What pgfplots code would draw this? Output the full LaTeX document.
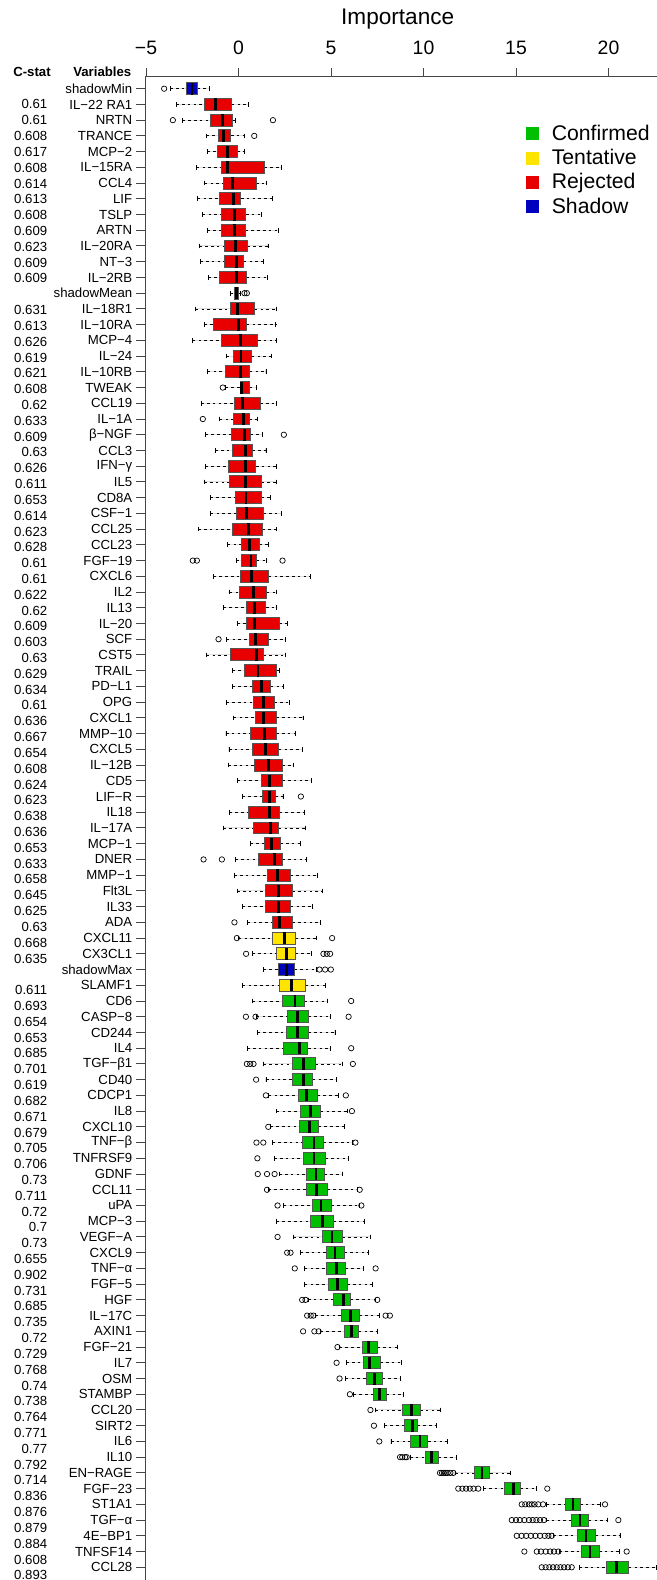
\documentclass[border=0pt]{standalone}
\usepackage{fontspec}
\setmainfont{Liberation Sans}
\usepackage{pgfplots}
\pgfplotsset{compat=1.18}
\usepgfplotslibrary{statistics}
\definecolor{cgreen}{RGB}{0,190,0}
\definecolor{cyellow}{RGB}{255,228,0}
\definecolor{cred}{RGB}{232,0,0}
\definecolor{cblue}{RGB}{0,0,190}
\definecolor{boxgray}{RGB}{85,85,85}
\definecolor{axgray}{RGB}{70,70,70}
\pgfplotsset{
  boxplot/draw direction=x,
  boxplot/box extend=0.76,
  boxplot/whisker extend=0.3,
  boxplot/every box/.style={draw=boxgray, line width=0.5pt},
  boxplot/every whisker/.style={black, line width=0.4pt},
  boxplot/every median/.style={black, line width=1.4pt},
  boxplot/draw/lower whisker/.code={%
    \draw[/pgfplots/boxplot/every whisker/.try, dash pattern=on 1.3pt off 1.6pt]
      (boxplot cs:\pgfplotsboxplotvalue{lower whisker}) -- (boxplot cs:\pgfplotsboxplotvalue{lower quartile});
    \draw[/pgfplots/boxplot/every whisker/.try, solid]
      (boxplot whisker cs:\pgfplotsboxplotvalue{lower whisker},0) -- (boxplot whisker cs:\pgfplotsboxplotvalue{lower whisker},1);
  },
  boxplot/draw/upper whisker/.code={%
    \draw[/pgfplots/boxplot/every whisker/.try, dash pattern=on 1.3pt off 1.6pt]
      (boxplot cs:\pgfplotsboxplotvalue{upper quartile}) -- (boxplot cs:\pgfplotsboxplotvalue{upper whisker});
    \draw[/pgfplots/boxplot/every whisker/.try, solid]
      (boxplot whisker cs:\pgfplotsboxplotvalue{upper whisker},0) -- (boxplot whisker cs:\pgfplotsboxplotvalue{upper whisker},1);
  },
  legend image code/.code={\fill[#1, draw=none] (0pt,-3.25pt) rectangle (6.5pt,3.25pt); \path[draw=none, fill=none] (0pt,0pt) -- (11pt,0pt);},
}
\newcommand{\bx}[7]{\addplot[boxplot prepared={draw position=#1, lower whisker=#2, lower quartile=#3, median=#4, upper quartile=#5, upper whisker=#6}, fill=#7, draw=boxgray] coordinates {};}
\begin{document}
\begin{tikzpicture}
\begin{axis}[name=main, at={(0,0)}, anchor=south west,
  scale only axis, width=255.95pt, height=751.65pt,
  xmin=-5.05, xmax=22.62, ymin=0.237, ymax=95.81, y dir=reverse,
  axis x line*=top, axis y line*=left,
  axis line style={axgray, line width=0.5pt},
  tick style={axgray, line width=0.5pt},
  tick align=outside, major tick length=4.3pt,
  xtick={-5,0,5,10,15,20}, xticklabels={−5,0,5,10,15,20},
  xticklabel style={font=\fontsize{9.7}{11}\selectfont, yshift=3pt},
  ytick={1,...,95},
  yticklabels={shadowMin, IL−22 RA1, NRTN, TRANCE, MCP−2, IL−15RA, CCL4, LIF, TSLP, ARTN, IL−20RA, NT−3, IL−2RB, shadowMean, IL−18R1, IL−10RA, MCP−4, IL−24, IL−10RB, TWEAK, CCL19, IL−1A, β−NGF, CCL3, IFN−γ, IL5, CD8A, CSF−1, CCL25, CCL23, FGF−19, CXCL6, IL2, IL13, IL−20, SCF, CST5, TRAIL, PD−L1, OPG, CXCL1, MMP−10, CXCL5, IL−12B, CD5, LIF−R, IL18, IL−17A, MCP−1, DNER, MMP−1, Flt3L, IL33, ADA, CXCL11, CX3CL1, shadowMax, SLAMF1, CD6, CASP−8, CD244, IL4, TGF−β1, CD40, CDCP1, IL8, CXCL10, TNF−β, TNFRSF9, GDNF, CCL11, uPA, MCP−3, VEGF−A, CXCL9, TNF−α, FGF−5, HGF, IL−17C, AXIN1, FGF−21, IL7, OSM, STAMBP, CCL20, SIRT2, IL6, IL10, EN−RAGE, FGF−23, ST1A1, TGF−α, 4E−BP1, TNFSF14, CCL28},
  yticklabel style={font=\fontsize{6.6}{7}\selectfont, xshift=1.4pt},
  clip=false,
  legend entries={Confirmed,Tentative,Rejected,Shadow},
  legend cell align=left,
  legend style={at={(axis description cs:0.743,0.971)}, anchor=north west, draw=none, fill=none, inner sep=0pt, font=\fontsize{10.6}{12}\selectfont, row sep=-1pt},
]
\addlegendimage{fill=cgreen}
\addlegendimage{fill=cyellow}
\addlegendimage{fill=cred}
\addlegendimage{fill=cblue}
\bx{1}{-3.69}{-2.83}{-2.52}{-2.22}{-1.57}{cblue}
\bx{2}{-3.37}{-1.86}{-1.26}{-0.36}{0.56}{cred}
\bx{3}{-3.03}{-1.50}{-0.88}{-0.34}{-0.16}{cred}
\bx{4}{-1.75}{-1.08}{-0.81}{-0.41}{0.32}{cred}
\bx{5}{-1.69}{-1.12}{-0.59}{-0.07}{0.31}{cred}
\bx{6}{-2.25}{-0.94}{-0.58}{1.41}{2.31}{cred}
\bx{7}{-1.82}{-0.81}{-0.31}{0.95}{1.53}{cred}
\bx{8}{-2.20}{-1.01}{-0.27}{0.13}{1.84}{cred}
\bx{9}{-1.93}{-0.94}{-0.22}{0.40}{1.26}{cred}
\bx{10}{-1.69}{-0.90}{-0.22}{0.38}{2.18}{cred}
\bx{11}{-2.11}{-0.76}{-0.16}{0.49}{1.59}{cred}
\bx{12}{-2.07}{-0.76}{-0.09}{0.29}{1.35}{cred}
\bx{13}{-1.64}{-1.01}{-0.11}{0.41}{1.57}{cred}
\bx{14}{-0.45}{-0.22}{-0.13}{-0.02}{0.09}{cblue}
\bx{15}{-2.31}{-0.45}{-0.07}{0.88}{2.07}{cred}
\bx{16}{-1.86}{-1.37}{0.0}{0.45}{2.02}{cred}
\bx{17}{-2.47}{-0.92}{0.09}{1.05}{2.07}{cred}
\bx{18}{-0.63}{-0.27}{0.13}{0.72}{1.80}{cred}
\bx{19}{-1.66}{-0.72}{0.11}{0.61}{1.48}{cred}
\bx{20}{-0.70}{0.13}{0.18}{0.61}{0.99}{cred}
\bx{21}{-2.02}{-0.20}{0.22}{1.17}{2.04}{cred}
\bx{22}{-1.01}{-0.27}{0.27}{0.59}{1.03}{cred}
\bx{23}{-1.78}{-0.38}{0.32}{0.65}{1.30}{cred}
\bx{24}{-1.26}{-0.31}{0.38}{0.76}{1.48}{cred}
\bx{25}{-1.78}{-0.52}{0.36}{0.94}{2.04}{cred}
\bx{26}{-1.86}{-0.49}{0.38}{1.24}{2.07}{cred}
\bx{27}{-1.51}{-0.18}{0.40}{1.23}{1.71}{cred}
\bx{28}{-1.50}{-0.11}{0.41}{1.33}{2.34}{cred}
\bx{29}{-2.18}{-0.32}{0.54}{1.28}{2.04}{cred}
\bx{30}{-0.58}{0.18}{0.58}{1.14}{1.64}{cred}
\bx{31}{-0.09}{0.18}{0.67}{0.99}{1.53}{cred}
\bx{32}{-1.35}{0.11}{0.72}{1.64}{3.87}{cred}
\bx{33}{-0.47}{0.07}{0.81}{1.53}{2.07}{cred}
\bx{34}{-0.81}{0.45}{0.85}{1.48}{2.04}{cred}
\bx{35}{-0.07}{0.41}{0.86}{2.22}{2.65}{cred}
\bx{36}{-0.63}{0.59}{0.90}{1.62}{2.56}{cred}
\bx{37}{-1.71}{-0.45}{0.97}{1.35}{2.52}{cred}
\bx{38}{-0.32}{0.34}{1.05}{2.04}{2.22}{cred}
\bx{39}{-0.32}{0.76}{1.23}{1.75}{2.43}{cred}
\bx{40}{-0.65}{0.81}{1.33}{1.93}{2.77}{cred}
\bx{41}{-0.25}{0.92}{1.33}{2.04}{3.48}{cred}
\bx{42}{-0.68}{0.63}{1.41}{2.04}{3.06}{cred}
\bx{43}{-0.52}{0.74}{1.46}{2.18}{3.46}{cred}
\bx{44}{-0.56}{0.86}{1.62}{2.36}{2.97}{cred}
\bx{45}{-0.04}{1.24}{1.66}{2.36}{3.93}{cred}
\bx{46}{0.22}{1.32}{1.68}{2.00}{2.40}{cred}
\bx{47}{-0.49}{0.54}{1.68}{2.22}{3.55}{cred}
\bx{48}{-0.83}{0.81}{1.73}{2.18}{3.60}{cred}
\bx{49}{0.63}{1.41}{1.80}{2.25}{3.35}{cred}
\bx{50}{-0.18}{1.08}{1.93}{2.36}{3.66}{cred}
\bx{51}{-0.23}{1.57}{2.11}{2.79}{4.27}{cred}
\bx{52}{-0.07}{1.48}{2.18}{2.90}{4.54}{cred}
\bx{53}{0.22}{1.48}{2.18}{2.83}{3.98}{cred}
\bx{54}{0.50}{1.82}{2.22}{2.90}{4.45}{cred}
\bx{55}{0.02}{1.86}{2.47}{3.08}{4.23}{cyellow}
\bx{56}{0.74}{2.07}{2.61}{3.08}{3.93}{cyellow}
\bx{57}{1.35}{2.16}{2.61}{3.01}{4.23}{cblue}
\bx{58}{0.23}{2.22}{2.85}{3.60}{4.70}{cyellow}
\bx{59}{0.77}{2.40}{3.05}{3.55}{4.81}{cgreen}
\bx{60}{0.99}{2.65}{3.19}{3.77}{4.95}{cgreen}
\bx{61}{1.03}{2.58}{3.17}{3.77}{5.21}{cgreen}
\bx{62}{0.47}{2.43}{3.30}{3.75}{4.99}{cgreen}
\bx{63}{1.35}{2.94}{3.51}{4.16}{5.62}{cgreen}
\bx{64}{1.48}{2.90}{3.53}{4.02}{5.28}{cgreen}
\bx{65}{1.64}{3.24}{3.69}{4.27}{5.42}{cgreen}
\bx{66}{2.07}{3.37}{3.87}{4.45}{5.89}{cgreen}
\bx{67}{1.72}{3.28}{3.85}{4.33}{5.73}{cgreen}
\bx{68}{1.83}{3.44}{4.08}{4.60}{6.15}{cgreen}
\bx{69}{1.93}{3.49}{4.08}{4.69}{5.96}{cgreen}
\bx{70}{2.20}{3.65}{4.19}{4.64}{5.64}{cgreen}
\bx{71}{1.61}{3.65}{4.21}{4.82}{6.41}{cgreen}
\bx{72}{2.45}{3.99}{4.46}{5.03}{6.55}{cgreen}
\bx{73}{2.06}{3.90}{4.53}{5.14}{6.82}{cgreen}
\bx{74}{2.97}{4.53}{5.05}{5.62}{7.13}{cgreen}
\bx{75}{3.33}{4.73}{5.21}{5.71}{7.04}{cgreen}
\bx{76}{3.58}{4.76}{5.28}{5.78}{6.75}{cgreen}
\bx{77}{3.58}{4.85}{5.37}{5.87}{7.23}{cgreen}
\bx{78}{3.76}{5.16}{5.69}{6.05}{7.38}{cgreen}
\bx{79}{4.14}{5.59}{6.05}{6.52}{7.61}{cgreen}
\bx{80}{4.44}{5.71}{6.09}{6.50}{7.50}{cgreen}
\bx{81}{5.46}{6.70}{7.04}{7.50}{8.58}{cgreen}
\bx{82}{5.82}{6.73}{7.09}{7.66}{8.79}{cgreen}
\bx{83}{5.80}{6.93}{7.34}{7.79}{8.74}{cgreen}
\bx{84}{6.21}{7.27}{7.63}{8.02}{8.90}{cgreen}
\bx{85}{7.38}{8.88}{9.36}{9.81}{10.93}{cgreen}
\bx{86}{7.90}{8.95}{9.41}{9.67}{10.71}{cgreen}
\bx{87}{8.24}{9.32}{9.81}{10.24}{11.31}{cgreen}
\bx{88}{9.27}{10.08}{10.44}{10.80}{11.76}{cgreen}
\bx{89}{11.70}{12.77}{13.16}{13.59}{14.68}{cgreen}
\bx{90}{13.23}{14.35}{14.86}{15.22}{16.12}{cgreen}
\bx{91}{16.66}{17.70}{18.08}{18.46}{19.54}{cgreen}
\bx{92}{16.62}{17.99}{18.46}{18.93}{19.94}{cgreen}
\bx{93}{17.02}{18.31}{18.78}{19.31}{20.62}{cgreen}
\bx{94}{17.34}{18.55}{19.00}{19.49}{20.57}{cgreen}
\bx{95}{18.41}{19.90}{20.42}{21.10}{22.57}{cgreen}
\addplot[only marks, mark=o, mark size=1.35pt, black, mark options={line width=0.35pt}] coordinates {
(-4.02,1) (-3.55,3) (1.86,3) (0.85,4) (0.32,14) (0.45,14) (-0.85,20) (-1.93,22) (2.45,23)
(-2.47,31) (-2.25,31) (2.38,31) (-1.08,36) (3.37,46) (-1.89,50) (-0.90,50) (-0.22,54)
(-0.09,55) (5.06,55) (0.41,56) (4.59,56) (4.77,56) (4.95,56) (4.38,57) (4.68,57) (4.99,57)
(6.09,59) (0.40,60) (0.92,60) (5.95,60) (6.09,62) (0.45,63) (0.63,63) (0.81,63) (6.18,63)
(0.95,64) (1.48,65) (5.80,65) (6.13,66) (1.61,67) (0.97,68) (1.34,68) (6.32,68) (1.02,69)
(1.04,70) (1.54,70) (1.95,70) (1.54,71) (6.55,71) (2.11,72) (6.64,72) (2.11,74) (2.63,75) (2.81,75)
(3.04,76) (7.41,76) (3.44,78) (3.62,78) (7.50,78) (3.71,79) (3.90,79) (4.05,79) (7.95,79) (8.18,79)
(3.49,80) (4.10,80) (4.33,80) (5.35,81) (5.30,82) (5.46,83) (6.02,84) (7.13,85) (7.32,86) (7.61,87)
(8.73,88) (8.85,88) (9.00,88) (9.09,88)
(10.89,89) (11.00,89) (11.10,89) (11.20,89) (11.30,89) (11.45,89) (11.61,89)
(11.88,90) (12.10,90) (12.30,90) (12.50,90) (12.70,90) (12.96,90) (16.69,90)
(15.31,91) (15.50,91) (15.70,91) (15.85,91) (16.00,91) (16.20,91) (16.46,91) (19.81,91)
(14.77,92) (15.00,92) (15.20,92) (15.45,92) (15.70,92) (15.90,92) (16.10,92) (16.30,92) (16.51,92) (20.53,92)
(15.04,93) (15.30,93) (15.55,93) (15.80,93) (16.05,93) (16.30,93) (16.55,93) (16.75,93) (16.93,93)
(15.45,94) (16.12,94) (16.35,94) (16.60,94) (16.85,94) (17.05,94) (17.29,94) (20.98,94)
(16.39,95) (16.60,95) (16.80,95) (17.00,95) (17.20,95) (17.40,95) (17.60,95) (17.80,95) (18.01,95)
};
\node[anchor=east, inner sep=0pt, font=\bfseries\fontsize{6.6}{7}\selectfont] at (axis description cs:-0.0262,1.0031) {Variables};
\node[anchor=center, inner sep=0pt, font=\bfseries\fontsize{6.6}{7}\selectfont] at (axis description cs:-0.221,1.0031) {C-stat};
\node[anchor=center, inner sep=0pt, font=\fontsize{11.3}{13}\selectfont] at (axis description cs:0.4935,1.0384) {Importance};
\end{axis}
\begin{axis}[at={(main.south west)}, anchor=south west,
  scale only axis, width=255.95pt, height=751.65pt,
  xmin=-5.05, xmax=22.62, ymin=0.2466, ymax=95.297, y dir=reverse,
  hide x axis, axis y line*=left, y axis line style={draw=none},
  major tick length=0pt,
  ytick={1,...,95},
  yticklabels={{}, 0.61, 0.61, 0.608, 0.617, 0.608, 0.614, 0.613, 0.608, 0.609, 0.623, 0.609, 0.609, {}, 0.631, 0.613, 0.626, 0.619, 0.621, 0.608, 0.62, 0.633, 0.609, 0.63, 0.626, 0.611, 0.653, 0.614, 0.623, 0.628, 0.61, 0.61, 0.622, 0.62, 0.609, 0.603, 0.63, 0.629, 0.634, 0.61, 0.636, 0.667, 0.654, 0.608, 0.624, 0.623, 0.638, 0.636, 0.653, 0.633, 0.658, 0.645, 0.625, 0.63, 0.668, 0.635, {}, 0.611, 0.693, 0.654, 0.653, 0.685, 0.701, 0.619, 0.682, 0.671, 0.679, 0.705, 0.706, 0.73, 0.711, 0.72, 0.7, 0.73, 0.655, 0.902, 0.731, 0.685, 0.735, 0.72, 0.729, 0.768, 0.74, 0.738, 0.764, 0.771, 0.77, 0.792, 0.714, 0.836, 0.876, 0.879, 0.884, 0.608, 0.893},
  yticklabel style={font=\fontsize{6.6}{7}\selectfont, anchor=east, xshift=-45.4pt},
]
\end{axis}
\pgfresetboundingbox
\path ([xshift=-72.55pt]main.south west) rectangle ([yshift=38.35pt]main.north east);
\end{tikzpicture}
\end{document}
